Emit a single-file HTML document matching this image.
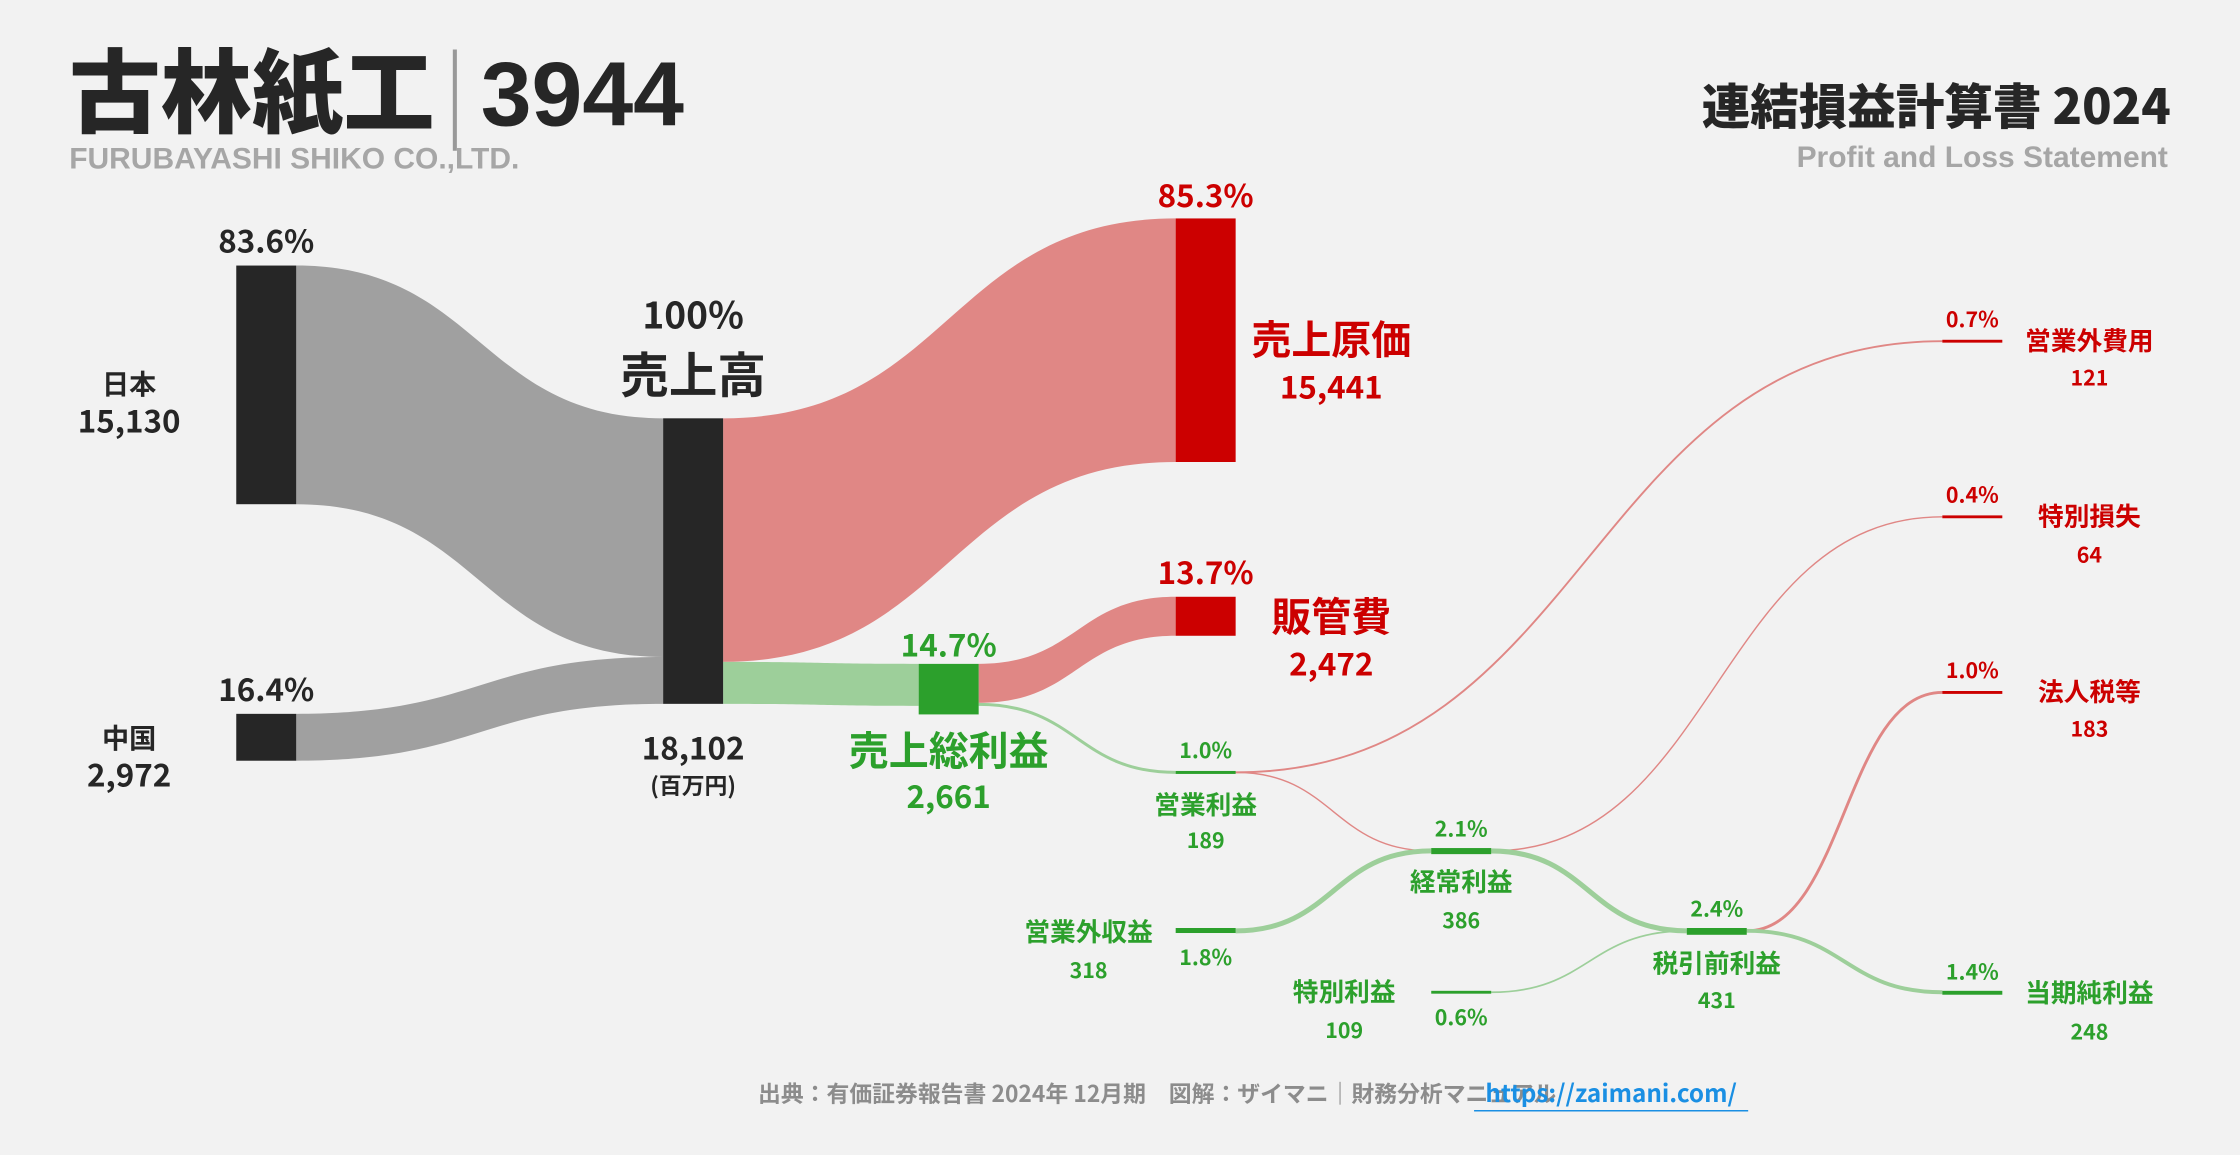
<!DOCTYPE html>
<html><head><meta charset="utf-8"><style>
html,body{margin:0;padding:0;background:#f2f2f2;}
svg{display:block;font-family:"Liberation Sans","Noto Sans CJK JP",sans-serif;font-weight:bold;}
</style></head><body>
<svg id="chart" width="2240" height="1155" viewBox="0 0 1568 809" xmlns="http://www.w3.org/2000/svg">
<rect width="1568" height="809" fill="#f2f2f2"/>
<g>
<text x="48" y="88" font-size="64" fill="#262626" font-family="Noto Sans CJK JP, sans-serif" font-weight="900">古林紙工<tspan fill="#999" font-weight="300" dx="6">|</tspan><tspan dx="10" font-family="Liberation Sans, sans-serif">3944</tspan></text>
<text x="48" y="118" font-size="21" fill="#a6a6a6">FURUBAYASHI SHIKO CO.,LTD.</text>
<text x="1520" y="87" font-size="34" fill="#262626" text-anchor="end" font-family="Noto Sans CJK JP, sans-serif" font-weight="900">連結損益計算書 2024</text>
<text x="1518" y="117" font-size="21" fill="#a6a6a6" text-anchor="end">Profit and Loss Statement</text>
</g>
<g id="links"></g>
<g id="nodes"></g>
<g id="labels" font-family="Noto Sans CJK JP, Liberation Sans, sans-serif">
<text x="186" y="177" font-size="22" fill="#262626" text-anchor="middle">83.6%</text>
<text x="90" y="276" font-size="19" fill="#262626" text-anchor="middle">日本</text>
<text x="90" y="303" font-size="22" fill="#262626" text-anchor="middle">15,130</text>
<text x="186" y="491" font-size="22" fill="#262626" text-anchor="middle">16.4%</text>
<text x="90" y="524" font-size="19" fill="#262626" text-anchor="middle">中国</text>
<text x="90" y="551" font-size="22" fill="#262626" text-anchor="middle">2,972</text>
<text x="485" y="230" font-size="26" fill="#262626" text-anchor="middle">100%</text>
<text x="485" y="275" font-size="34" fill="#262626" text-anchor="middle">売上高</text>
<text x="485" y="532" font-size="22" fill="#262626" text-anchor="middle">18,102</text>
<text x="485" y="556" font-size="16" fill="#262626" text-anchor="middle">(百万円)</text>
<text x="844" y="145" font-size="22" fill="#cc0000" text-anchor="middle">85.3%</text>
<text x="932" y="248" font-size="28" fill="#cc0000" text-anchor="middle">売上原価</text>
<text x="932" y="279" font-size="22" fill="#cc0000" text-anchor="middle">15,441</text>
<text x="844" y="409" font-size="22" fill="#cc0000" text-anchor="middle">13.7%</text>
<text x="932" y="442" font-size="28" fill="#cc0000" text-anchor="middle">販管費</text>
<text x="932" y="473" font-size="22" fill="#cc0000" text-anchor="middle">2,472</text>
<text x="664" y="460" font-size="22" fill="#2ca02c" text-anchor="middle">14.7%</text>
<text x="664" y="536" font-size="28" fill="#2ca02c" text-anchor="middle">売上総利益</text>
<text x="664" y="566" font-size="22" fill="#2ca02c" text-anchor="middle">2,661</text>
<g font-size="15" fill="#2ca02c" text-anchor="middle">
<text x="844" y="531">1.0%</text>
<text x="844" y="570" font-size="18">営業利益</text>
<text x="844" y="594">189</text>
<text x="1023" y="586">2.1%</text>
<text x="1023" y="624" font-size="18">経常利益</text>
<text x="1023" y="650">386</text>
<text x="762" y="659" font-size="18">営業外収益</text>
<text x="762" y="685">318</text>
<text x="844" y="676">1.8%</text>
<text x="941" y="701" font-size="18">特別利益</text>
<text x="941" y="727">109</text>
<text x="1023" y="718">0.6%</text>
<text x="1202" y="642">2.4%</text>
<text x="1202" y="681" font-size="18">税引前利益</text>
<text x="1202" y="706">431</text>
<text x="1381" y="686">1.4%</text>
<text x="1463" y="702" font-size="18">当期純利益</text>
<text x="1463" y="728">248</text>
</g>
<g font-size="15" fill="#cc0000" text-anchor="middle">
<text x="1381" y="229">0.7%</text>
<text x="1463" y="245" font-size="18">営業外費用</text>
<text x="1463" y="270">121</text>
<text x="1381" y="352">0.4%</text>
<text x="1463" y="368" font-size="18">特別損失</text>
<text x="1463" y="394">64</text>
<text x="1381" y="475">1.0%</text>
<text x="1463" y="491" font-size="18">法人税等</text>
<text x="1463" y="516">183</text>
</g>
<text x="810" y="772" font-size="16" fill="#8c8c8c" text-anchor="middle">出典：有価証券報告書 2024年 12月期　図解：ザイマニ｜財務分析マニュアル</text>
<text x="1128" y="772" font-size="17" fill="#1a8fe3" text-anchor="middle">https://zaimani.com/</text>
<line x1="1032" y1="778" x2="1224" y2="778" stroke="#1a8fe3" stroke-width="1"/>
</g>
</svg>
<script>
// Values (百万円)
const segValues = [15130, 2972];
const revenueValue = 18102;
const costValues = [15441, 2661]; // cost of sales, gross profit
const grossSplit = [2472, 189];   // SGA, operating income
const smallValues = {opToNonopExp:121, opToOrd:68, nonopIncToOrd:318, ordToSpecLoss:64, ordToPretax:322, specGainToPretax:109, pretaxToTax:183, pretaxToNet:248};

const k = 200 / revenueValue;
const h = v => v * k;
const NS = "http://www.w3.org/2000/svg";
const links = document.getElementById('links');
const nodes = document.getElementById('nodes');

function band(x1, y1, x2, y2, w1, w2, color, name) {
  const mx = (x1 + x2) / 2;
  const p = document.createElementNS(NS, 'path');
  p.setAttribute('d', `M${x1},${y1} C${mx},${y1} ${mx},${y2} ${x2},${y2} L${x2},${y2 + w2} C${mx},${y2 + w2} ${mx},${y1 + w1} ${x1},${y1 + w1} Z`);
  p.setAttribute('fill', color);
  
  
  links.appendChild(p);
}
function thin(x1, y1, x2, y2, v, color, name) {
  const mx = (x1 + x2) / 2;
  const p = document.createElementNS(NS, 'path');
  p.setAttribute('d', `M${x1},${y1} C${mx},${y1} ${mx},${y2} ${x2},${y2}`);
  p.setAttribute('fill', 'none');
  p.setAttribute('stroke', color);
  p.setAttribute('stroke-width', Math.max(1, h(v)));
  
  
  links.appendChild(p);
}
function rect(x, y, w, hh, color, name) {
  const r = document.createElementNS(NS, 'rect');
  r.setAttribute('x', x); r.setAttribute('y', y);
  r.setAttribute('width', w); r.setAttribute('height', Math.max(2, hh));
  r.setAttribute('fill', color);
  
  
  nodes.appendChild(r);
}
const GRAY = '#a0a0a0', RED = '#e08785', GREEN = '#9dcf9a';
const DARK = '#262626', NRED = '#cc0000', NGREEN = '#2ca02c';

// Segments
const jpTop = 186, cnTop = 500, revTop = 293;
band(207, jpTop, 464, revTop, h(segValues[0]), h(segValues[0]), GRAY, 'flow-japan');
band(207, cnTop, 464, revTop + h(segValues[0]), h(segValues[1]), h(segValues[1]), GRAY, 'flow-china');
// Revenue split
const costTop = 153, grossTop = 465;
band(506, revTop, 823, costTop, h(costValues[0]), h(costValues[0]), RED, 'flow-cost');
band(506, revTop + h(costValues[0]), 643, grossTop, h(costValues[1]), h(costValues[1]), GREEN, 'flow-gross');
// Gross split
const sgaTop = 418;
band(685, grossTop, 823, sgaTop, h(grossSplit[0]), h(grossSplit[0]), RED, 'flow-sga');
const opY = 541;
thin(685, grossTop + h(grossSplit[0]) + h(grossSplit[1]) / 2, 823, opY, grossSplit[1], GREEN, 'flow-operating');
// Small flows
const ordY = 596, nonIncY = 652, pretaxY = 652, spGainY = 695;
const nonExpY = 239, spLossY = 362, taxY = 485, netY = 695;
thin(865, opY, 1360, nonExpY, smallValues.opToNonopExp, RED, 'flow-nonop-expense');
thin(865, opY, 1002, ordY, smallValues.opToOrd, RED, 'flow-op-to-ordinary');
thin(865, nonIncY, 1002, ordY, smallValues.nonopIncToOrd, GREEN, 'flow-nonop-income');
thin(1044, ordY, 1360, spLossY, smallValues.ordToSpecLoss, RED, 'flow-special-loss');
thin(1044, ordY, 1181, pretaxY, smallValues.ordToPretax, GREEN, 'flow-ord-to-pretax');
thin(1044, spGainY, 1181, pretaxY, smallValues.specGainToPretax, GREEN, 'flow-special-gain');
thin(1223, pretaxY, 1360, taxY, smallValues.pretaxToTax, RED, 'flow-tax');
thin(1223, pretaxY, 1360, netY, smallValues.pretaxToNet, GREEN, 'flow-net');

// Nodes
rect(165, jpTop, 42, h(segValues[0]), DARK, 'node-japan');
rect(165, cnTop, 42, h(segValues[1]), DARK, 'node-china');
rect(464, revTop, 42, h(revenueValue), DARK, 'node-revenue');
rect(823, costTop, 42, h(costValues[0]), NRED, 'node-cost');
rect(643, grossTop, 42, h(costValues[1]) + 6, NGREEN, 'node-gross');
rect(823, sgaTop, 42, h(grossSplit[0]), NRED, 'node-sga');
rect(823, opY - 1, 42, h(grossSplit[1]), NGREEN, 'node-operating');
rect(1002, ordY - 2, 42, h(smallValues.nonopIncToOrd + smallValues.opToOrd), NGREEN, 'node-ordinary');
rect(823, nonIncY - 2, 42, h(smallValues.nonopIncToOrd), NGREEN, 'node-nonop-income');
rect(1181, pretaxY - 2, 42, h(smallValues.ordToPretax + smallValues.specGainToPretax), NGREEN, 'node-pretax');
rect(1002, spGainY - 1, 42, h(smallValues.specGainToPretax), NGREEN, 'node-special-gain');
rect(1360, nonExpY - 1, 42, h(smallValues.opToNonopExp), NRED, 'node-nonop-expense');
rect(1360, spLossY - 1, 42, h(smallValues.ordToSpecLoss), NRED, 'node-special-loss');
rect(1360, taxY - 1, 42, h(smallValues.pretaxToTax), NRED, 'node-tax');
rect(1360, netY - 1, 42, h(smallValues.pretaxToNet), NGREEN, 'node-net');
</script>
</body></html>
